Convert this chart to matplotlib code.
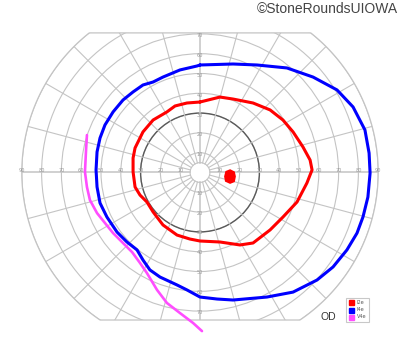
import numpy as np
import matplotlib
matplotlib.use("Agg")
import matplotlib.pyplot as plt
from matplotlib.patches import Circle, Polygon
from matplotlib.lines import Line2D

# ---- data (degrees of visual field: x = horizontal, y = vertical) ----
i2e_x = [0, 10.1, 16.7, 26.8, 35.4, 41.9, 47.0, 52.0, 55.6, 56.6, 54.0, 49.0, 41.9, 35.4,
         26.8, 20.2, 10.1, 0, -5.1, -11.6, -18.7, -23.7, -26.8, -30.3, -32.8, -33.8, -33.8,
         -32.8, -28.8, -23.7, -16.7, -12.6, -6.6]
i2e_y = [35.6, 38.1, 37.1, 35.1, 31.6, 26.5, 20.5, 12.9, 6.3, 1.3, -5.3, -14.9, -22.5, -29.0,
         -35.6, -36.6, -35.1, -34.6, -33.6, -31.6, -26.5, -19.9, -14.9, -11.4, -7.3, 0.3, 7.3,
         12.4, 20.5, 26.5, 30.6, 33.6, 35.1]

i4e_x = [0, 16.7, 28.8, 43.9, 57.1, 69.2, 77.3, 83.3, 85.4, 85.9, 84.8, 82.3, 79.3, 74.2,
         67.2, 59.1, 47.0, 33.8, 16.7, 8.6, 0, -6.6, -11.6, -20.2, -25.3, -28.8, -31.8, -36.9,
         -41.9, -47.0, -50.5, -52.0, -52.5, -52.0, -50.5, -48.0, -43.9, -38.9, -33.8, -28.8,
         -23.7, -18.7, -10.1, -1.5]
i4e_y = [54.3, 54.8, 54.3, 52.8, 48.2, 41.7, 33.1, 21.5, 9.8, -0.3, -12.4, -22.5, -30.6, -39.1,
         -47.7, -54.3, -60.4, -62.9, -64.4, -63.9, -62.9, -59.3, -56.8, -52.8, -49.2, -44.2,
         -39.1, -35.1, -30.1, -22.5, -15.4, -7.3, 1.3, 10.4, 17.4, 24.0, 30.6, 36.6, 40.7, 44.2,
         45.7, 48.2, 51.8, 53.8]

v4e_x = [-57.1, -57.6, -58.1, -57.1, -55.6, -52.0, -48.0, -43.9, -38.9, -34.3, -30.3, -26.8,
         -21.7, -16.7, -10.1, -3.5, 1.0]
v4e_y = [18.9, 10.4, 0.3, -7.3, -13.9, -20.5, -25.5, -30.6, -35.6, -40.2, -45.7, -50.8,
         -59.3, -65.9, -71.0, -76.0, -80.1]

# blind spot (I2e, filled)
bs_x = [15.2, 17.2, 17.7, 17.2, 15.2, 13.0, 12.6, 13.2]
bs_y = [1.2, 0.2, -2.0, -4.5, -5.3, -4.3, -2.0, 0.4]

ring_values = [5, 10, 20, 30, 40, 50, 60, 70, 80, 90]
meridians = list(range(0, 360, 15))
h_labels = [10, 20, 30, 40, 50, 60, 70, 80, 90]
v_labels = [10, 20, 30, 40, 50, 60, 70]
legend_labels = ["I2e", "I4e", "V4e"]
colors = ["#ff0000", "#0000ff", "#ff4dff"]

# ---- figure ----
S = 1.98  # px per degree
fig = plt.figure(figsize=(4.0, 3.52), dpi=100)
ax = fig.add_axes([0, 0, 1, 1])
ax.set_xlim(-200 / S, 200 / S)
ax.set_ylim(-(352 - 172.5) / S, 172.5 / S)
ax.set_aspect("equal")
ax.axis("off")

TOP, BOT, RMAX = 70.5, -74.5, 90
th = np.linspace(0, 2 * np.pi, 1441)
bx = RMAX * np.cos(th)
by = np.clip(RMAX * np.sin(th), BOT, TOP)
clip = Polygon(np.column_stack([bx, by]), closed=True, fc="none", ec="#c4c4c4", lw=0.9)
ax.add_patch(clip)

grid_c = "#c4c4c4"
for r in ring_values:
    c = Circle((0, 0), r, fill=False, ec=grid_c, lw=0.8)
    ax.add_patch(c)
    c.set_clip_path(clip)
dark = Circle((0, 0), 30, fill=False, ec="#5a5a5a", lw=1.0, zorder=2)
ax.add_patch(dark)

for m in meridians:
    a = np.deg2rad(m)
    ln, = ax.plot([5 * np.cos(a), 100 * np.cos(a)], [5 * np.sin(a), 100 * np.sin(a)],
                  color=grid_c, lw=1.1 if m % 90 == 0 else 0.8)
    ln.set_clip_path(clip)

lab_kw = dict(fontsize=3.6, color="#9a9a9a", ha="center", va="center", zorder=3)
for v in h_labels:
    ax.text(v, 1.2, str(v), **lab_kw)
    ax.text(-v, 1.2, str(v), **lab_kw)
for v in v_labels:
    ax.text(0, v - 1, str(v), **lab_kw)
    ax.text(0, -v - 0.5, str(v), **lab_kw)

# isopters
ax.plot(i2e_x + i2e_x[:1], i2e_y + i2e_y[:1], color=colors[0], lw=2.2, zorder=5,
        solid_capstyle="round", solid_joinstyle="round")
ax.fill(bs_x, bs_y, color=colors[0], zorder=5, lw=1.2, ec=colors[0])
ax.plot(i4e_x + i4e_x[:1], i4e_y + i4e_y[:1], color=colors[1], lw=2.2, zorder=5,
        solid_capstyle="round", solid_joinstyle="round")
ax.plot(v4e_x, v4e_y, color=colors[2], lw=1.9, zorder=5,
        solid_capstyle="round", solid_joinstyle="round")

# legend
handles = [Line2D([], [], marker="s", ls="none", color=c, markersize=3.6) for c in colors]
leg = ax.legend(handles, legend_labels, loc="lower left", bbox_to_anchor=(346 / 400, 1 - 322 / 352),
                fontsize=3.6, frameon=True, fancybox=False, edgecolor="#bbbbbb",
                handlelength=0.8, handletextpad=0.8, borderpad=0.5, labelspacing=0.45,
                borderaxespad=0)
leg.get_frame().set_linewidth(0.8)
for t in leg.get_texts():
    t.set_color("#555555")

fig.text(328 / 400, 1 - 317 / 352, "OD", fontsize=7.5, color="#333333",
         ha="center", va="center", family="Liberation Sans")
fig.text(398 / 400, 1 - 9 / 352, "\u00a9StoneRoundsUIOWA", fontsize=10, color="#444444",
         ha="right", va="center", family="Liberation Sans")

fig.savefig("out.png", dpi=100)
